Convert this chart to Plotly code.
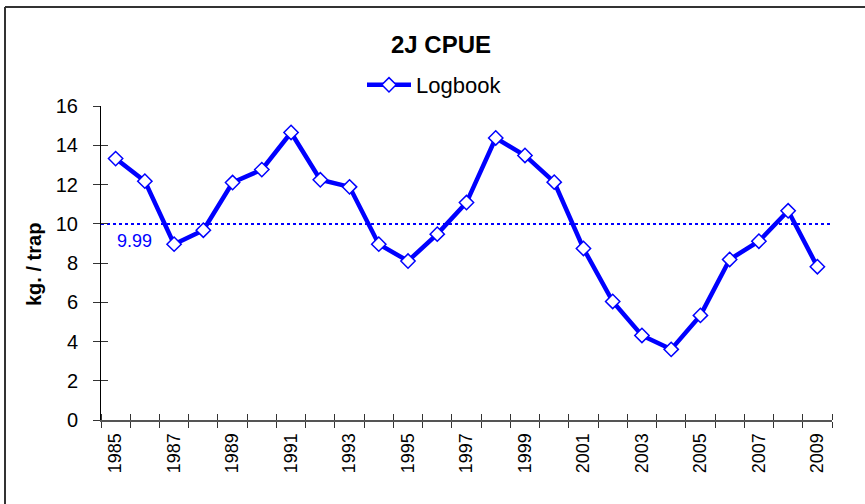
import plotly.graph_objects as go

YEARS = list(range(1985, 2010))
LOGBOOK = [13.32, 12.17, 8.96, 9.67, 12.10, 12.76, 14.65, 12.24, 11.88, 8.96,
           8.10, 9.47, 11.08, 14.37, 13.48, 12.12, 8.74, 6.04, 4.31, 3.60,
           5.33, 8.18, 9.11, 10.66, 7.81]
MEAN = 9.99
TICK_YEARS = list(range(1985, 2010, 2))
TICK_LABELS = [str(y) for y in TICK_YEARS]
Y_TICKS = list(range(0, 17, 2))

FONT = "Liberation Sans, Arial, sans-serif"
BLUE = "#0000FF"

# plot-area geometry (page pixels; body margin removed in post_script)
W, H = 869, 508
L, T = 101, 106
R = W - 832
B = H - 420
PW, PH = W - L - R, H - T - B


def px(x):
    return (x - L) / PW


def py(y):
    return (H - B - y) / PH


fig = go.Figure()
fig.add_trace(go.Scatter(
    x=YEARS, y=LOGBOOK, mode="lines+markers", name="Logbook",
    line=dict(color=BLUE, width=4.5),
    marker=dict(symbol="diamond", size=11, color="white",
                line=dict(color=BLUE, width=1.5)),
))
# invisible helper trace so the overlay axes (inner tick halves) get drawn
fig.add_trace(go.Scatter(
    x=YEARS, y=LOGBOOK, xaxis="x2", yaxis="y2", mode="lines",
    line=dict(width=0, color="rgba(0,0,0,0)"), showlegend=False, hoverinfo="skip",
))

fig.add_shape(type="line", xref="paper", yref="y", x0=0, x1=1, y0=MEAN, y1=MEAN,
              line=dict(color=BLUE, width=2, dash="dot"), layer="below")
fig.add_annotation(x=1985, y=MEAN, xref="x", yref="y", text=f"{MEAN:.2f}",
                   showarrow=False, xanchor="left", yanchor="top", xshift=-1, yshift=-5,
                   font=dict(family=FONT, size=18, color=BLUE))

# outer frame: left and top edges
FRAME = dict(color="#333333", width=2)
fig.add_shape(type="line", xref="paper", yref="paper",
              x0=px(5), x1=px(5), y0=py(H + 5), y1=py(7), line=FRAME)
fig.add_shape(type="line", xref="paper", yref="paper",
              x0=px(5), x1=px(W + 5), y0=py(7), y1=py(7), line=FRAME)

fig.add_annotation(xref="paper", yref="paper", x=px(441), y=py(44),
                   xanchor="center", yanchor="middle",
                   text="<b>2J CPUE</b>", showarrow=False,
                   font=dict(family=FONT, size=24, color="black"))
fig.add_annotation(xref="paper", yref="paper", x=px(34), y=py(265),
                   xanchor="center", yanchor="middle",
                   text="<b>kg. / trap</b>", showarrow=False, textangle=-90,
                   font=dict(family=FONT, size=20, color="black"))

axis_x = dict(range=[1984.5, 2009.5], showgrid=False, zeroline=False)
fig.update_layout(
    width=W, height=H, margin=dict(l=L, r=R, t=T, b=B, pad=0, autoexpand=False),
    paper_bgcolor="white", plot_bgcolor="white",
    font=dict(family=FONT, color="black"),
    showlegend=True,
    legend=dict(orientation="h", x=px(362), y=py(85), xanchor="left", yanchor="middle",
                font=dict(family=FONT, size=22), itemwidth=44, bgcolor="rgba(0,0,0,0)"),
    xaxis=dict(**axis_x, tickmode="array", tickvals=TICK_YEARS, ticktext=TICK_LABELS,
               tickangle=-90, ticks="", showline=True, linecolor="#555555", linewidth=2,
               tickfont=dict(family=FONT, size=18), ticklabelstandoff=4,
               minor=dict(tick0=1984.5, dtick=1, ticks="outside", ticklen=6,
                          tickcolor="#333333", tickwidth=1)),
    xaxis2=dict(**axis_x, overlaying="x", anchor="y", side="bottom", showticklabels=False,
                showline=False, ticks="",
                minor=dict(tick0=1984.5, dtick=1, ticks="inside", ticklen=6,
                           tickcolor="#333333", tickwidth=1)),
    yaxis=dict(range=[0, 16], tickmode="array", tickvals=Y_TICKS, showgrid=False,
               zeroline=False, showline=True, linecolor="black", linewidth=1,
               ticks="outside", ticklen=7, tickcolor="#333333", ticklabelstandoff=11,
               tickfont=dict(family=FONT, size=20)),
    yaxis2=dict(range=[0, 16], overlaying="y", anchor="x", side="left",
                tickmode="array", tickvals=Y_TICKS, showticklabels=False, showgrid=False,
                zeroline=False, showline=False, ticks="inside", ticklen=7, tickcolor="#333333"),
)

fig.write_html("out.html", config={"displayModeBar": False},
               post_script="document.body.style.margin='0';document.body.style.overflow='hidden';")
